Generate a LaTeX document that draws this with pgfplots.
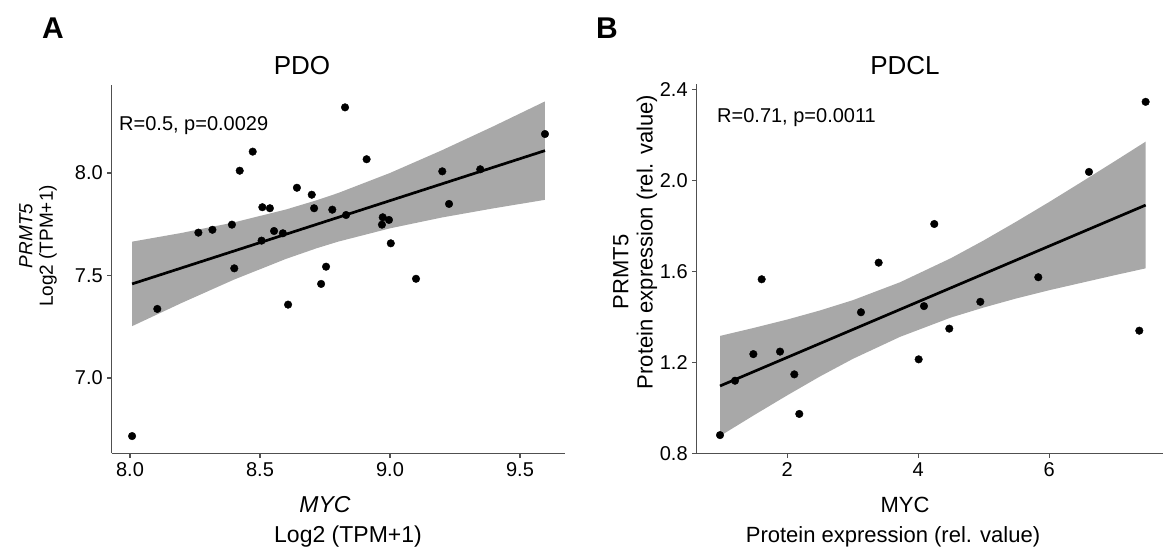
\documentclass[border=0pt]{standalone}
\usepackage{fontspec}
\setmainfont{Liberation Sans}
\usepackage{pgfplots}
\pgfplotsset{compat=1.18}
\definecolor{bandgray}{RGB}{168,168,168}
\definecolor{axgray}{RGB}{80,80,80}

\pgfplotstableread{
x y
8.008 6.717
8.105 7.337
8.263 7.709
8.317 7.723
8.392 7.748
8.401 7.535
8.422 8.011
8.472 8.104
8.506 7.670
8.509 7.833
8.538 7.828
8.554 7.717
8.588 7.706
8.608 7.358
8.642 7.928
8.699 7.894
8.708 7.828
8.735 7.459
8.754 7.543
8.778 7.821
8.827 8.320
8.831 7.795
8.910 8.067
8.969 7.748
8.972 7.784
8.996 7.771
9.003 7.657
9.100 7.484
9.201 8.008
9.227 7.849
9.347 8.018
9.596 8.190
}\pdo

\pgfplotstableread{
x y
0.973 0.880
1.202 1.119
1.482 1.236
1.609 1.565
1.889 1.247
2.107 1.147
2.183 0.973
3.125 1.420
3.395 1.638
4.006 1.213
4.087 1.447
4.244 1.808
4.473 1.348
4.947 1.466
5.832 1.574
6.606 2.037
7.374 1.339
7.471 2.345
}\pdcl

\pgfplotsset{
  myaxis/.style={
    scale only axis,
    axis lines=left,
    x axis line style={-, axgray, line width=1.1pt},
    y axis line style={-, axgray, line width=1.1pt},
    tick style={axgray, line width=1.1pt},
    tick align=outside,
    major tick length=4.5pt,
    minor tick num=0,
    ticklabel style={font=\fontsize{20}{24}\selectfont},
    /pgf/number format/assume math mode=true,
    /pgf/number format/fixed,
    /pgf/number format/fixed zerofill,
    /pgf/number format/precision=1,
    xticklabel style={yshift=-1pt},
    yticklabel style={xshift=-1pt},
    clip=false,
  }
}

\begin{document}
\begin{tikzpicture}[x=1pt,y=1pt]
\useasboundingbox (0,0) rectangle (1163,551);

% ---------------- Panel A ----------------
\begin{axis}[myaxis,
  at={(111.8pt,97.7pt)}, anchor=south west,
  width=453.2pt, height=368.5pt,
  xmin=7.93, xmax=9.673, ymin=6.633, ymax=8.43,
  xtick={8,8.5,9,9.5}, ytick={7,7.5,8},
]
\addplot[fill=bandgray, draw=none] coordinates {
(8.008,7.665) (8.2,7.708) (8.4,7.759) (8.6,7.822) (8.718,7.867) (8.8,7.902) (9.0,8.000) (9.2,8.111) (9.4,8.229) (9.596,8.349)
(9.596,7.869) (9.4,7.828) (9.2,7.783) (9.0,7.730) (8.8,7.665) (8.718,7.633) (8.6,7.581) (8.4,7.480) (8.2,7.367) (8.008,7.253)
};
\addplot[black, line width=2.7pt] coordinates {(8.008,7.459) (9.596,8.109)};
\addplot[only marks, mark=*, mark size=3.8pt, black] table[x=x,y=y] {\pdo};
\end{axis}

% ---------------- Panel B ----------------
\begin{axis}[myaxis,
  at={(696.7pt,97.7pt)}, anchor=south west,
  width=466.3pt, height=369.2pt,
  xmin=0.617, xmax=7.736, ymin=0.8, ymax=2.423,
  xtick={2,4,6}, ytick={0.8,1.2,1.6,2.0,2.4},
  xticklabel={\pgfmathprintnumber[fixed,precision=0]{\tick}},
]
\addplot[fill=bandgray, draw=none] coordinates {
(0.973,1.316) (1.5,1.352) (2.0,1.388) (2.5,1.428) (3.0,1.473) (3.7225,1.552) (4.5,1.658) (5.0,1.736) (5.5,1.819) (6.0,1.905) (6.5,1.994) (7.0,2.084) (7.471,2.170)
(7.471,1.613) (7.0,1.583) (6.5,1.550) (6.0,1.517) (5.5,1.481) (5.0,1.441) (4.5,1.397) (3.7225,1.312) (3.0,1.215) (2.5,1.138) (2.0,1.055) (1.5,0.969) (0.973,0.876)
};
\addplot[black, line width=2.7pt] coordinates {(0.973,1.096) (7.471,1.891)};
\addplot[only marks, mark=*, mark size=3.8pt, black] table[x=x,y=y] {\pdcl};
\end{axis}

% ---------------- Texts ----------------
\node[font=\fontsize{30}{34}\selectfont\bfseries] at (53,523) {A};
\node[font=\fontsize{30}{34}\selectfont\bfseries] at (607,523) {B};
\node[font=\fontsize{26}{30}\selectfont, anchor=base] at (302,476) {PDO};
\node[font=\fontsize{26}{30}\selectfont, anchor=base] at (905,476) {PDCL};
\node[font=\fontsize{20}{24}\selectfont, anchor=base west, inner sep=0pt] at (119,420) {R=0.5, p=0.0029};
\node[font=\fontsize{20}{24}\selectfont, anchor=base west, inner sep=0pt] at (717,428) {R=0.71, p=0.0011};

% Panel A axis titles
\node[font=\fontsize{19}{23}\selectfont\itshape, rotate=90] at (26,315) {PRMT5};
\node[font=\fontsize{19}{23}\selectfont, rotate=90] at (48,305) {Log2 (TPM+1)};
\node[font=\fontsize{23}{27}\selectfont\itshape, anchor=base] at (325,38) {MYC};
\node[font=\fontsize{23}{27}\selectfont, anchor=base] at (348,8) {Log2 (TPM+1)};

% Panel B axis titles
\node[font=\fontsize{22}{26}\selectfont, rotate=90] at (621,279) {PRMT5};
\node[font=\fontsize{22}{26}\selectfont, rotate=90] at (647,309) {Protein expression (rel. value)};
\node[font=\fontsize{22}{26}\selectfont, anchor=base] at (905,38) {MYC};
\node[font=\fontsize{22}{26}\selectfont, anchor=base] at (893,8) {Protein expression (rel. value)};
\end{tikzpicture}
\end{document}
